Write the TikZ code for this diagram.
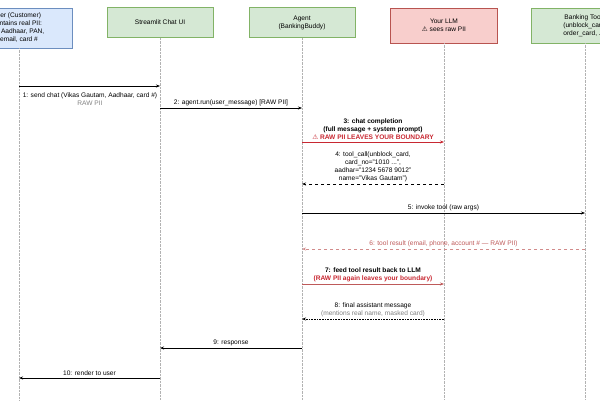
\documentclass[tikz,border=0pt]{standalone}
\usepackage{fontspec}
\setmainfont{Liberation Sans}
\usetikzlibrary{calc}
\usetikzlibrary{arrows.meta,positioning}
\definecolor{userblue}{RGB}{218,232,252}
\definecolor{userline}{RGB}{108,142,191}
\definecolor{agentgreen}{RGB}{213,232,212}
\definecolor{agentline}{RGB}{130,179,102}
\definecolor{llmred}{RGB}{248,206,204}
\definecolor{llmline}{RGB}{184,84,80}
\definecolor{piired}{RGB}{200,40,50}
\definecolor{softred}{RGB}{190,90,90}

\begin{document}
\begin{tikzpicture}[x=1pt,y=-1pt,>=Stealth, every node/.style={font=\fontsize{6.6}{8}\selectfont,align=center}]
    \tikzset{actor/.style={draw,minimum height=30pt,inner sep=2pt}}
    \tikzset{lifeline/.style={densely dotted,gray!60}}
    \tikzset{msg/.style={-{Stealth[length=4pt]},semithick}}
    \tikzset{reply/.style={msg,dashed}}
    \tikzset{mlabel/.style={inner sep=1pt}}
    \useasboundingbox (0,0) rectangle (600,400);
    \clip (0,0) rectangle (600,400);

    % participants
    \node[actor,fill=userblue,draw=userline,minimum width=107pt,minimum height=40pt] (user) at (19,28) {ser (Customer)\\ontains real PII:\\e, Aadhaar, PAN,\\email, card \#};
    \node[actor,fill=agentgreen,draw=agentline,minimum width=106pt] (ui) at (160,22.5) {Streamlit Chat UI};
    \node[actor,fill=agentgreen,draw=agentline,minimum width=106pt] (agent) at (302,22.5) {Agent\\(BankingBuddy)};
    \node[actor,fill=llmred,draw=llmline,minimum width=107pt,minimum height=35pt] (llm) at (444,25.5) {Your LLM\\{\fontspec{DejaVu Sans}\char"26A0} sees raw PII};
    \node[actor,fill=agentgreen,draw=agentline,minimum width=107pt,minimum height=35pt] (tools) at (585,25.5) {Banking Tools\\(unblock\_card,\\order\_card, ...)};

    % lifelines
    \foreach \p in {user,ui,agent,llm,tools}
      \draw[lifeline] (\p.south) -- (\p |- 0,400);

    % 1, 2
    \draw[msg] (user |- 0,86) -- (ui |- 0,86);
    \node[mlabel] (m1) at (90,99) {1: send chat (Vikas Gautam, Aadhaar, card \#)\\\textcolor{gray}{RAW PII}};
    \draw[msg] (ui |- 0,108) -- (agent |- 0,108);
    \node[mlabel,above=1pt of {$(ui |- 0,108)!0.5!(agent |- 0,108)$}] (m2) {2: agent.run(user\_message) [RAW PII]};

    % 3, 4
    \draw[msg,piired] (agent |- 0,142) -- (llm |- 0,142);
    \node[mlabel,above=1pt of {$(agent |- 0,142)!0.5!(llm |- 0,142)$}] (m3) {\textbf{3: chat completion}\\\textbf{(full message + system prompt)}\\\textcolor{piired}{\textbf{{\fontspec{DejaVu Sans}\char"26A0} RAW PII LEAVES YOUR BOUNDARY}}};
    \draw[reply] (llm |- 0,184) -- (agent |- 0,184);
    \node[mlabel,above=1pt of {$(agent |- 0,184)!0.5!(llm |- 0,184)$}] (m4) {4: tool\_call(unblock\_card,\\card\_no="1010 ...",\\aadhar="1234 5678 9012"\\name="Vikas Gautam")};

    % 5, 6
    \draw[msg] (agent |- 0,213) -- (tools |- 0,213);
    \node[mlabel,above=1pt of {$(agent |- 0,213)!0.5!(tools |- 0,213)$}] (m5) {5: invoke tool (raw args)};
    \draw[reply,softred!70] (tools |- 0,249) -- (agent |- 0,249);
    \node[mlabel,text=softred,above=1pt of {$(agent |- 0,249)!0.5!(tools |- 0,249)$}] (m6) {6: tool result (email, phone, account \# --- RAW PII)};

    % 7, 8
    \draw[msg,softred] (agent |- 0,284) -- (llm |- 0,284);
    \node[mlabel,above=1pt of {$(agent |- 0,284)!0.5!(llm |- 0,284)$}] (m7) {\textbf{7: feed tool result back to LLM}\\\textcolor{piired}{\textbf{(RAW PII again leaves your boundary)}}};
    \draw[msg,densely dotted] (llm |- 0,319) -- (agent |- 0,319);
    \node[mlabel,above=1pt of {$(agent |- 0,319)!0.5!(llm |- 0,319)$}] (m8) {8: final assistant message\\\textcolor{gray}{(mentions real name, masked card)}};

    % 9, 10
    \draw[msg] (agent |- 0,348) -- (ui |- 0,348);
    \node[mlabel,above=1pt of {$(ui |- 0,348)!0.5!(agent |- 0,348)$}] (m9) {9: response};
    \draw[msg] (ui |- 0,378) -- (user |- 0,378);
    \node[mlabel,above=1pt of {$(user |- 0,378)!0.5!(ui |- 0,378)$}] (m10) {10: render to user};
\end{tikzpicture}
\end{document}
